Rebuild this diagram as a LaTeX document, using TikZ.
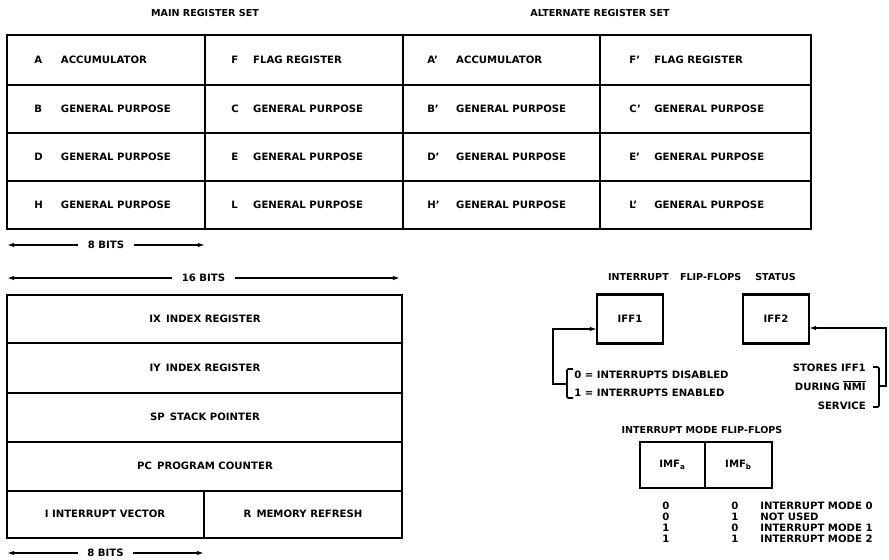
\documentclass[tikz,border=0pt]{standalone}
\usepackage{fontspec}
\setmainfont{DejaVu Sans}
\usetikzlibrary{arrows.meta,positioning,calc}
\newcommand{\regpair}[3]{\makebox[#1][l]{#2}#3}

\begin{document}
\begin{tikzpicture}[x=0.25mm,y=-0.25mm,
  reg/.style={font=\fontsize{7.2}{8.6}\selectfont\bfseries,inner sep=0pt},
  head/.style={font=\fontsize{6.8}{8}\selectfont\bfseries,inner sep=0pt},
  note/.style={font=\fontsize{7.2}{13.5}\selectfont\bfseries,inner sep=0pt,align=right},
  bits/.style={line width=1.1pt,{Latex[length=5pt,width=3.2pt]}-{Latex[length=5pt,width=3.2pt]}},
  bitlabel/.style={reg,fill=white,inner xsep=7pt},
  flag/.style={draw,line width=1.8pt,outer sep=0pt,minimum width=16.5mm,
    minimum height=12.25mm,font=\fontsize{7.2}{8.6}\selectfont\bfseries},
  flow/.style={line width=1.2pt,-{Latex[length=5pt,width=3.2pt]}},
  brace/.style={line width=1.2pt,rounded corners=1pt}]

  \useasboundingbox (0,0) rectangle (889,560);

  % ---- Main and alternate register sets ----------------------
  \node[head] (mainhd) at (205,13) {MAIN REGISTER SET};
  \node[head] (althd) at (600,13) {ALTERNATE REGISTER SET};
  % grid
  \draw[line width=1.2pt] (7,85) -- (811,85) (7,133) -- (811,133) (7,181) -- (811,181);
  \draw[line width=1.2pt] (205,35) -- (205,229) (403,35) -- (403,229) (600,35) -- (600,229);
  \draw[line width=2pt] (7,35) rectangle (811,229);
  % main set
  \node[reg,anchor=west] (regA) at (34,60) {\regpair{19pt}{A}{ACCUMULATOR}};
  \node[reg,anchor=west] (regF) at (231,60) {\regpair{15.6pt}{F}{FLAG REGISTER}};
  \node[reg,anchor=west] (regB) at (34,109) {\regpair{19pt}{B}{GENERAL PURPOSE}};
  \node[reg,anchor=west] (regC) at (231,109) {\regpair{15.6pt}{C}{GENERAL PURPOSE}};
  \node[reg,anchor=west] (regD) at (34,157) {\regpair{19pt}{D}{GENERAL PURPOSE}};
  \node[reg,anchor=west] (regE) at (231,157) {\regpair{15.6pt}{E}{GENERAL PURPOSE}};
  \node[reg,anchor=west] (regH) at (34,205) {\regpair{19pt}{H}{GENERAL PURPOSE}};
  \node[reg,anchor=west] (regL) at (231,205) {\regpair{15.6pt}{L}{GENERAL PURPOSE}};
  % alternate set
  \node[reg,anchor=west] (altA) at (427,60) {\regpair{20.6pt}{A’}{ACCUMULATOR}};
  \node[reg,anchor=west] (altF) at (629,60) {\regpair{17.8pt}{F’}{FLAG REGISTER}};
  \node[reg,anchor=west] (altB) at (427,109) {\regpair{20.6pt}{B’}{GENERAL PURPOSE}};
  \node[reg,anchor=west] (altC) at (629,109) {\regpair{17.8pt}{C’}{GENERAL PURPOSE}};
  \node[reg,anchor=west] (altD) at (427,157) {\regpair{20.6pt}{D’}{GENERAL PURPOSE}};
  \node[reg,anchor=west] (altE) at (629,157) {\regpair{17.8pt}{E’}{GENERAL PURPOSE}};
  \node[reg,anchor=west] (altH) at (427,205) {\regpair{20.6pt}{H’}{GENERAL PURPOSE}};
  \node[reg,anchor=west] (altL) at (629,205) {\regpair{17.8pt}{L’}{GENERAL PURPOSE}};

  % 8 bit width
  \coordinate (b8l) at (7,245);
  \coordinate (b8r) at (205,245);
  \draw[bits] (b8l) -- (b8r) node[bitlabel,midway] (b8txt) {8 BITS};

  % ---- Special purpose registers -----------------------------
  \coordinate (b16l) at (7,278);
  \coordinate (b16r) at (400,278);
  \draw[bits] (b16l) -- (b16r) node[bitlabel,midway] (b16txt) {16 BITS};
  % grid
  \draw[line width=1.2pt] (7,343) -- (402,343) (7,393) -- (402,393)
    (7,442) -- (402,442) (7,491) -- (402,491) (204,491) -- (204,538);
  \draw[line width=2pt] (7,295) rectangle (402,538);
  \node[reg] (regIX) at (205,319) {IX\enspace INDEX REGISTER};
  \node[reg] (regIY) at (205,368) {IY\enspace INDEX REGISTER};
  \node[reg] (regSP) at (205,417) {SP\enspace STACK POINTER};
  \node[reg] (regPC) at (205,466) {PC\enspace PROGRAM COUNTER};
  \node[reg] (regI) at (105,514) {I INTERRUPT VECTOR};
  \node[reg] (regR) at (303,514) {R\enspace MEMORY REFRESH};
  % 8 bit width
  \coordinate (b8bl) at (7,553);
  \coordinate (b8br) at (204,553);
  \draw[bits] (b8bl) -- (b8br) node[bitlabel,midway] (b8btxt) {8 BITS};

  % ---- Interrupt flip-flops ----------------------------------
  \node[head] (iffhd) at (702,277)
    {INTERRUPT\hspace{8pt}FLIP-FLOPS\hspace{10pt}STATUS};
  \node[flag] (iff1) at (630,319) {IFF1};
  \node[flag] (iff2) at (776,319) {IFF2};
  % IFF1 states
  \node[reg,anchor=west] (ifdis) at (574,375) {0 = INTERRUPTS DISABLED};
  \node[reg,anchor=west] (ifena) at (574,393) {1 = INTERRUPTS ENABLED};
  \draw[brace] (573,369) -- (567,369) -- (567,398) -- (573,398);
  \coordinate (lbr) at (567,384);
  \coordinate (lin) at (553,329);
  \draw[flow] (lbr) -- (lin |- lbr) -- (lin) -- (lin -| iff1.west);
  % IFF2 copy
  \node[note,anchor=east] (nmitx) at (866,387)
    {STORES IFF1\\DURING $\overline{\mbox{NMI}}$\\SERVICE};
  \draw[brace] (873,367) -- (879,367) -- (879,407) -- (873,407);
  \coordinate (rbr) at (879,386);
  \coordinate (rin) at (886,328);
  \draw[flow] (rbr) -- (rin |- rbr) -- (rin) -- (rin -| iff2.east);

  % ---- Interrupt mode flip-flops -----------------------------
  \node[head] (imfhd) at (702,430) {INTERRUPT MODE FLIP-FLOPS};
  \node[flag,minimum width=16.25mm,minimum height=11.5mm] (imfa) at (672.5,465)
    {IMF\textsubscript{a}};
  \node[flag,minimum width=16.75mm,minimum height=11.5mm,right=0pt of imfa] (imfb)
    {IMF\textsubscript{b}};
  % mode table
  \node[reg] (m0a) at (666,506) {0};
  \node[reg] (m0b) at (735,506) {0};
  \node[reg,anchor=west] (m0t) at (760,506) {INTERRUPT MODE 0};
  \node[reg] (mxa) at (666,517) {0};
  \node[reg] (mxb) at (735,517) {1};
  \node[reg,anchor=west] (mxt) at (760,517) {NOT USED};
  \node[reg] (m1a) at (666,528) {1};
  \node[reg] (m1b) at (735,528) {0};
  \node[reg,anchor=west] (m1t) at (760,528) {INTERRUPT MODE 1};
  \node[reg] (m2a) at (666,539) {1};
  \node[reg] (m2b) at (735,539) {1};
  \node[reg,anchor=west] (m2t) at (760,539) {INTERRUPT MODE 2};

\end{tikzpicture}
\end{document}
